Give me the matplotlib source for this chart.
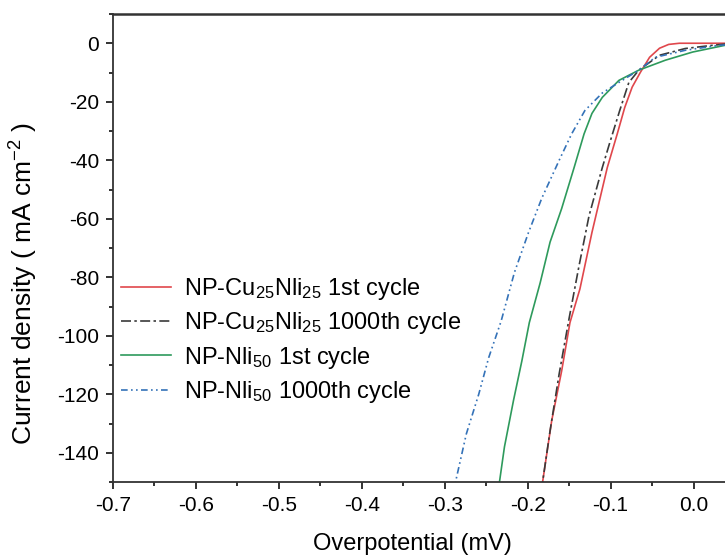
import matplotlib
matplotlib.use("Agg")
import matplotlib.pyplot as plt
from matplotlib.ticker import MultipleLocator

plt.rcParams["font.family"] = ["Liberation Sans", "DejaVu Sans"]
plt.rcParams["mathtext.fontset"] = "custom"
plt.rcParams["mathtext.rm"] = "Liberation Sans"
plt.rcParams["mathtext.it"] = "Liberation Sans:italic"
plt.rcParams["mathtext.default"] = "regular"
plt.rcParams["axes.unicode_minus"] = False

# values (overpotential, current density)
cu_1st_x = [0.05, 0.0, -0.017, -0.030, -0.041, -0.053, -0.064, -0.074, -0.083, -0.092,
            -0.104, -0.1225, -0.137, -0.149, -0.159, -0.171, -0.182]
cu_1st_y = [0.0, 0.0, 0.0, -0.4, -1.7, -4.8, -9.9, -15.0, -22.0, -31.0,
            -42.5, -64.7, -84.0, -95.5, -112.0, -129.0, -150.0]

cu_1000_x = [0.05, 0.023, -0.010, -0.041, -0.066, -0.078, -0.089, -0.101, -0.110,
             -0.126, -0.138, -0.150, -0.162, -0.173, -0.182]
cu_1000_y = [0.0, -0.7, -1.8, -4.1, -9.2, -13.4, -23.0, -34.0, -42.5,
             -59.0, -76.0, -94.0, -113.0, -132.5, -150.0]

ni_1st_x = [0.05, 0.038, -0.001, -0.034, -0.066, -0.090, -0.110, -0.1225, -0.132, -0.144,
            -0.159, -0.173, -0.185, -0.198, -0.207, -0.217, -0.228, -0.234]
ni_1st_y = [-0.4, -0.7, -3.0, -5.8, -9.2, -12.7, -18.5, -24.0, -31.0, -42.5,
            -56.5, -68.0, -82.0, -95.5, -108.6, -122.0, -138.0, -150.0]

ni_1000_x = [0.05, 0.031, -0.010, -0.046, -0.066, -0.090, -0.110, -0.131, -0.147, -0.162,
             -0.183, -0.199, -0.216, -0.232, -0.247, -0.259, -0.274, -0.287]
ni_1000_y = [-0.4, -0.7, -2.4, -4.8, -9.2, -13.4, -17.0, -23.0, -31.0, -40.0,
             -53.0, -64.7, -78.4, -95.0, -107.5, -120.0, -133.6, -150.0]

labels = [
    "NP-Cu$_{25}$Nli$_{25}$ 1st cycle",
    "NP-Cu$_{25}$Nli$_{25}$ 1000th cycle",
    "NP-Nli$_{50}$ 1st cycle",
    "NP-Nli$_{50}$ 1000th cycle",
]

fig = plt.figure(figsize=(7.25, 5.58), dpi=100)
# axes run past the right edge of the figure, like the cropped original
ax = fig.add_axes([113 / 725, 76 / 558, 622 / 725, 468 / 558])

ax.plot(cu_1st_x, cu_1st_y, color="#e0474c", lw=1.2, label=labels[0])
ax.plot(cu_1000_x, cu_1000_y, color="#3a3a3a", lw=1.2,
        linestyle=(0, (6, 2, 1.5, 2)), label=labels[1])
ax.plot(ni_1st_x, ni_1st_y, color="#2e9a5c", lw=1.2, label=labels[2])
ax.plot(ni_1000_x, ni_1000_y, color="#3472b8", lw=1.2,
        linestyle=(0, (4, 2, 1, 2, 1, 2)), label=labels[3])

ax.set_xlim(-0.7, 0.05)
ax.set_ylim(-150, 10)
ax.xaxis.set_major_locator(MultipleLocator(0.1))
ax.xaxis.set_minor_locator(MultipleLocator(0.05))
ax.yaxis.set_major_locator(MultipleLocator(20))
ax.yaxis.set_minor_locator(MultipleLocator(10))
ax.xaxis.set_major_formatter(plt.FuncFormatter(lambda v, p: f"{v:.1f}"))
ax.tick_params(which="both", direction="out", top=False, right=False,
               width=1.3, color="#222222", labelsize=15, pad=5)
ax.tick_params(which="major", length=5)
ax.tick_params(which="minor", length=3)
for s in ax.spines.values():
    s.set_linewidth(1.3)
    s.set_color("#333333")
ax.spines["top"].set_linewidth(1.8)

ax.set_xlabel("Overpotential (mV)", fontsize=17)
ax.set_ylabel("Current density ( mA cm$^{-2}$ )", fontsize=19)
ax.xaxis.set_label_coords(0.481, -0.108)
ax.yaxis.set_label_coords(-0.118, 0.423)

ax.legend(loc="upper left", bbox_to_anchor=(121 / 725, 1 - 276 / 558),
          bbox_transform=fig.transFigure, frameon=False, fontsize=17,
          handlelength=2.1, handletextpad=0.55, labelspacing=0.35,
          borderpad=0, borderaxespad=0)

fig.savefig("out.png", dpi=100)
